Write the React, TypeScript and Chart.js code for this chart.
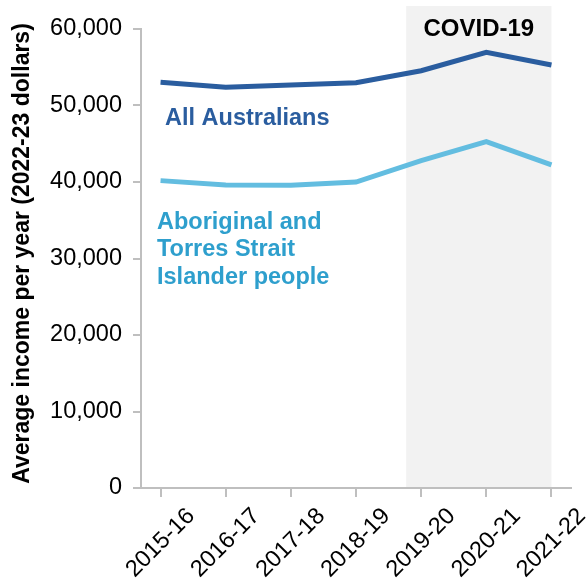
import React, { useEffect, useRef } from "react";
import { Chart, registerables } from "chart.js";

Chart.register(...registerables);

// ---- Data ----
const years = ["2015-16", "2016-17", "2017-18", "2018-19", "2019-20", "2020-21", "2021-22"];
const allAustralians = [53040, 52380, 52690, 52980, 54550, 56960, 55300];
const aboriginalTSI = [40180, 39620, 39580, 40000, 42800, 45280, 42230];
const yMin = 0;
const yMax = 60000;
const yStep = 10000;
// COVID-19 shaded period (in category index units / value units)
const covidStart = 3.77;
const covidEnd = 6;
const covidTop = 63000;
const yTitle = "Average income per year (2022-23 dollars)";

const FONT = "'Liberation Sans', Arial, Helvetica, sans-serif";
const DARK_BLUE = "#2a5d9f";
const LIGHT_BLUE_LINE = "#63bde0";
const LIGHT_BLUE_TEXT = "#2e9fcd";
const AXIS_GREY = "#bfbfbf";

export default function App() {
  const ref = useRef<HTMLCanvasElement | null>(null);

  useEffect(() => {
    const canvas = ref.current;
    if (!canvas) return;

    const overlay = {
      id: "overlay",
      beforeDraw(chart: any) {
        const { ctx, chartArea, scales } = chart;
        const x = scales.x;
        const y = scales.y;
        const x0 = x.getPixelForValue(covidStart);
        const x1 = x.getPixelForValue(covidEnd);
        const y0 = y.getPixelForValue(covidTop);
        ctx.save();
        ctx.fillStyle = "#f2f2f2";
        ctx.fillRect(x0, y0, x1 - x0, chartArea.bottom - y0);
        ctx.restore();
      },
      afterDraw(chart: any) {
        const { ctx, scales } = chart;
        const x = scales.x;
        ctx.save();
        // rotated, centred x labels
        ctx.fillStyle = "#000";
        ctx.font = `23.5px ${FONT}`;
        ctx.textAlign = "center";
        ctx.textBaseline = "middle";
        years.forEach((label, i) => {
          const px = x.getPixelForValue(i);
          ctx.save();
          ctx.translate(px, 543);
          ctx.rotate(-Math.PI / 4);
          ctx.fillText(label, 0, 0);
          ctx.restore();
        });

        // y-axis title
        ctx.save();
        ctx.font = `bold 23px ${FONT}`;
        ctx.fillStyle = "#000";
        ctx.textAlign = "center";
        ctx.textBaseline = "middle";
        ctx.translate(23, 253.5);
        ctx.rotate(-Math.PI / 2);
        ctx.fillText(yTitle, 0, 0);
        ctx.restore();

        // COVID-19 label
        ctx.font = `bold 24px ${FONT}`;
        ctx.textAlign = "center";
        ctx.textBaseline = "alphabetic";
        ctx.fillStyle = "#000";
        const cx = (x.getPixelForValue(covidStart) + x.getPixelForValue(covidEnd)) / 2;
        ctx.fillText("COVID-19", cx, 35.5);

        // series labels
        ctx.textAlign = "left";
        ctx.font = `bold 23.5px ${FONT}`;
        ctx.fillStyle = DARK_BLUE;
        ctx.fillText("All Australians", 165, 125);
        ctx.fillStyle = LIGHT_BLUE_TEXT;
        ctx.fillText("Aboriginal and", 157, 228.5);
        ctx.fillText("Torres Strait", 157, 256);
        ctx.fillText("Islander people", 157, 283.5);
        ctx.restore();
      },
    };

    const chart = new Chart(canvas, {
      type: "line",
      data: {
        datasets: [
          {
            label: "All Australians",
            data: allAustralians.map((v, i) => ({ x: i, y: v })),
            borderColor: DARK_BLUE,
            backgroundColor: DARK_BLUE,
            borderWidth: 5,
            pointRadius: 0,
            tension: 0,
            fill: false,
          },
          {
            label: "Aboriginal and Torres Strait Islander people",
            data: aboriginalTSI.map((v, i) => ({ x: i, y: v })),
            borderColor: LIGHT_BLUE_LINE,
            backgroundColor: LIGHT_BLUE_LINE,
            borderWidth: 5,
            pointRadius: 0,
            tension: 0,
            fill: false,
          },
        ],
      },
      options: {
        responsive: false,
        animation: false,
        devicePixelRatio: 1,
        layout: { padding: { top: 29, right: 17, left: 0, bottom: 0 } },
        plugins: {
          legend: { display: false },
          tooltip: { enabled: false },
        },
        scales: {
          x: {
            type: "linear",
            min: -0.3,
            max: 6.3,
            afterBuildTicks: (scale: any) => {
              scale.ticks = years.map((_, i) => ({ value: i }));
            },
            afterFit: (scale: any) => {
              scale.height = 98;
            },
            ticks: { display: false },
            grid: {
              display: true,
              drawOnChartArea: false,
              drawTicks: true,
              tickLength: 9,
              color: AXIS_GREY,
              lineWidth: 2,
            },
            border: { display: true, color: AXIS_GREY, width: 2 },
          },
          y: {
            type: "linear",
            min: yMin,
            max: yMax,
            afterFit: (scale: any) => {
              scale.width = 141;
            },
            ticks: {
              stepSize: yStep,
              color: "#000",
              padding: 11,
              font: { family: FONT, size: 23.5 },
              callback: (v: any) => Number(v).toLocaleString("en-US"),
            },
            grid: {
              display: true,
              drawOnChartArea: false,
              drawTicks: true,
              tickLength: 8,
              color: AXIS_GREY,
              lineWidth: 2,
            },
            border: { display: true, color: AXIS_GREY, width: 2 },
            title: { display: false },
          },
        },
      },
      plugins: [overlay],
    } as any);

    return () => chart.destroy();
  }, []);

  return (
    <div style={{ position: "absolute", left: 0, top: 0, width: 588, height: 586 }}>
      <canvas
        ref={ref}
        width={588}
        height={586}
        style={{ display: "block", width: 588, height: 586 }}
      />
    </div>
  );
}
